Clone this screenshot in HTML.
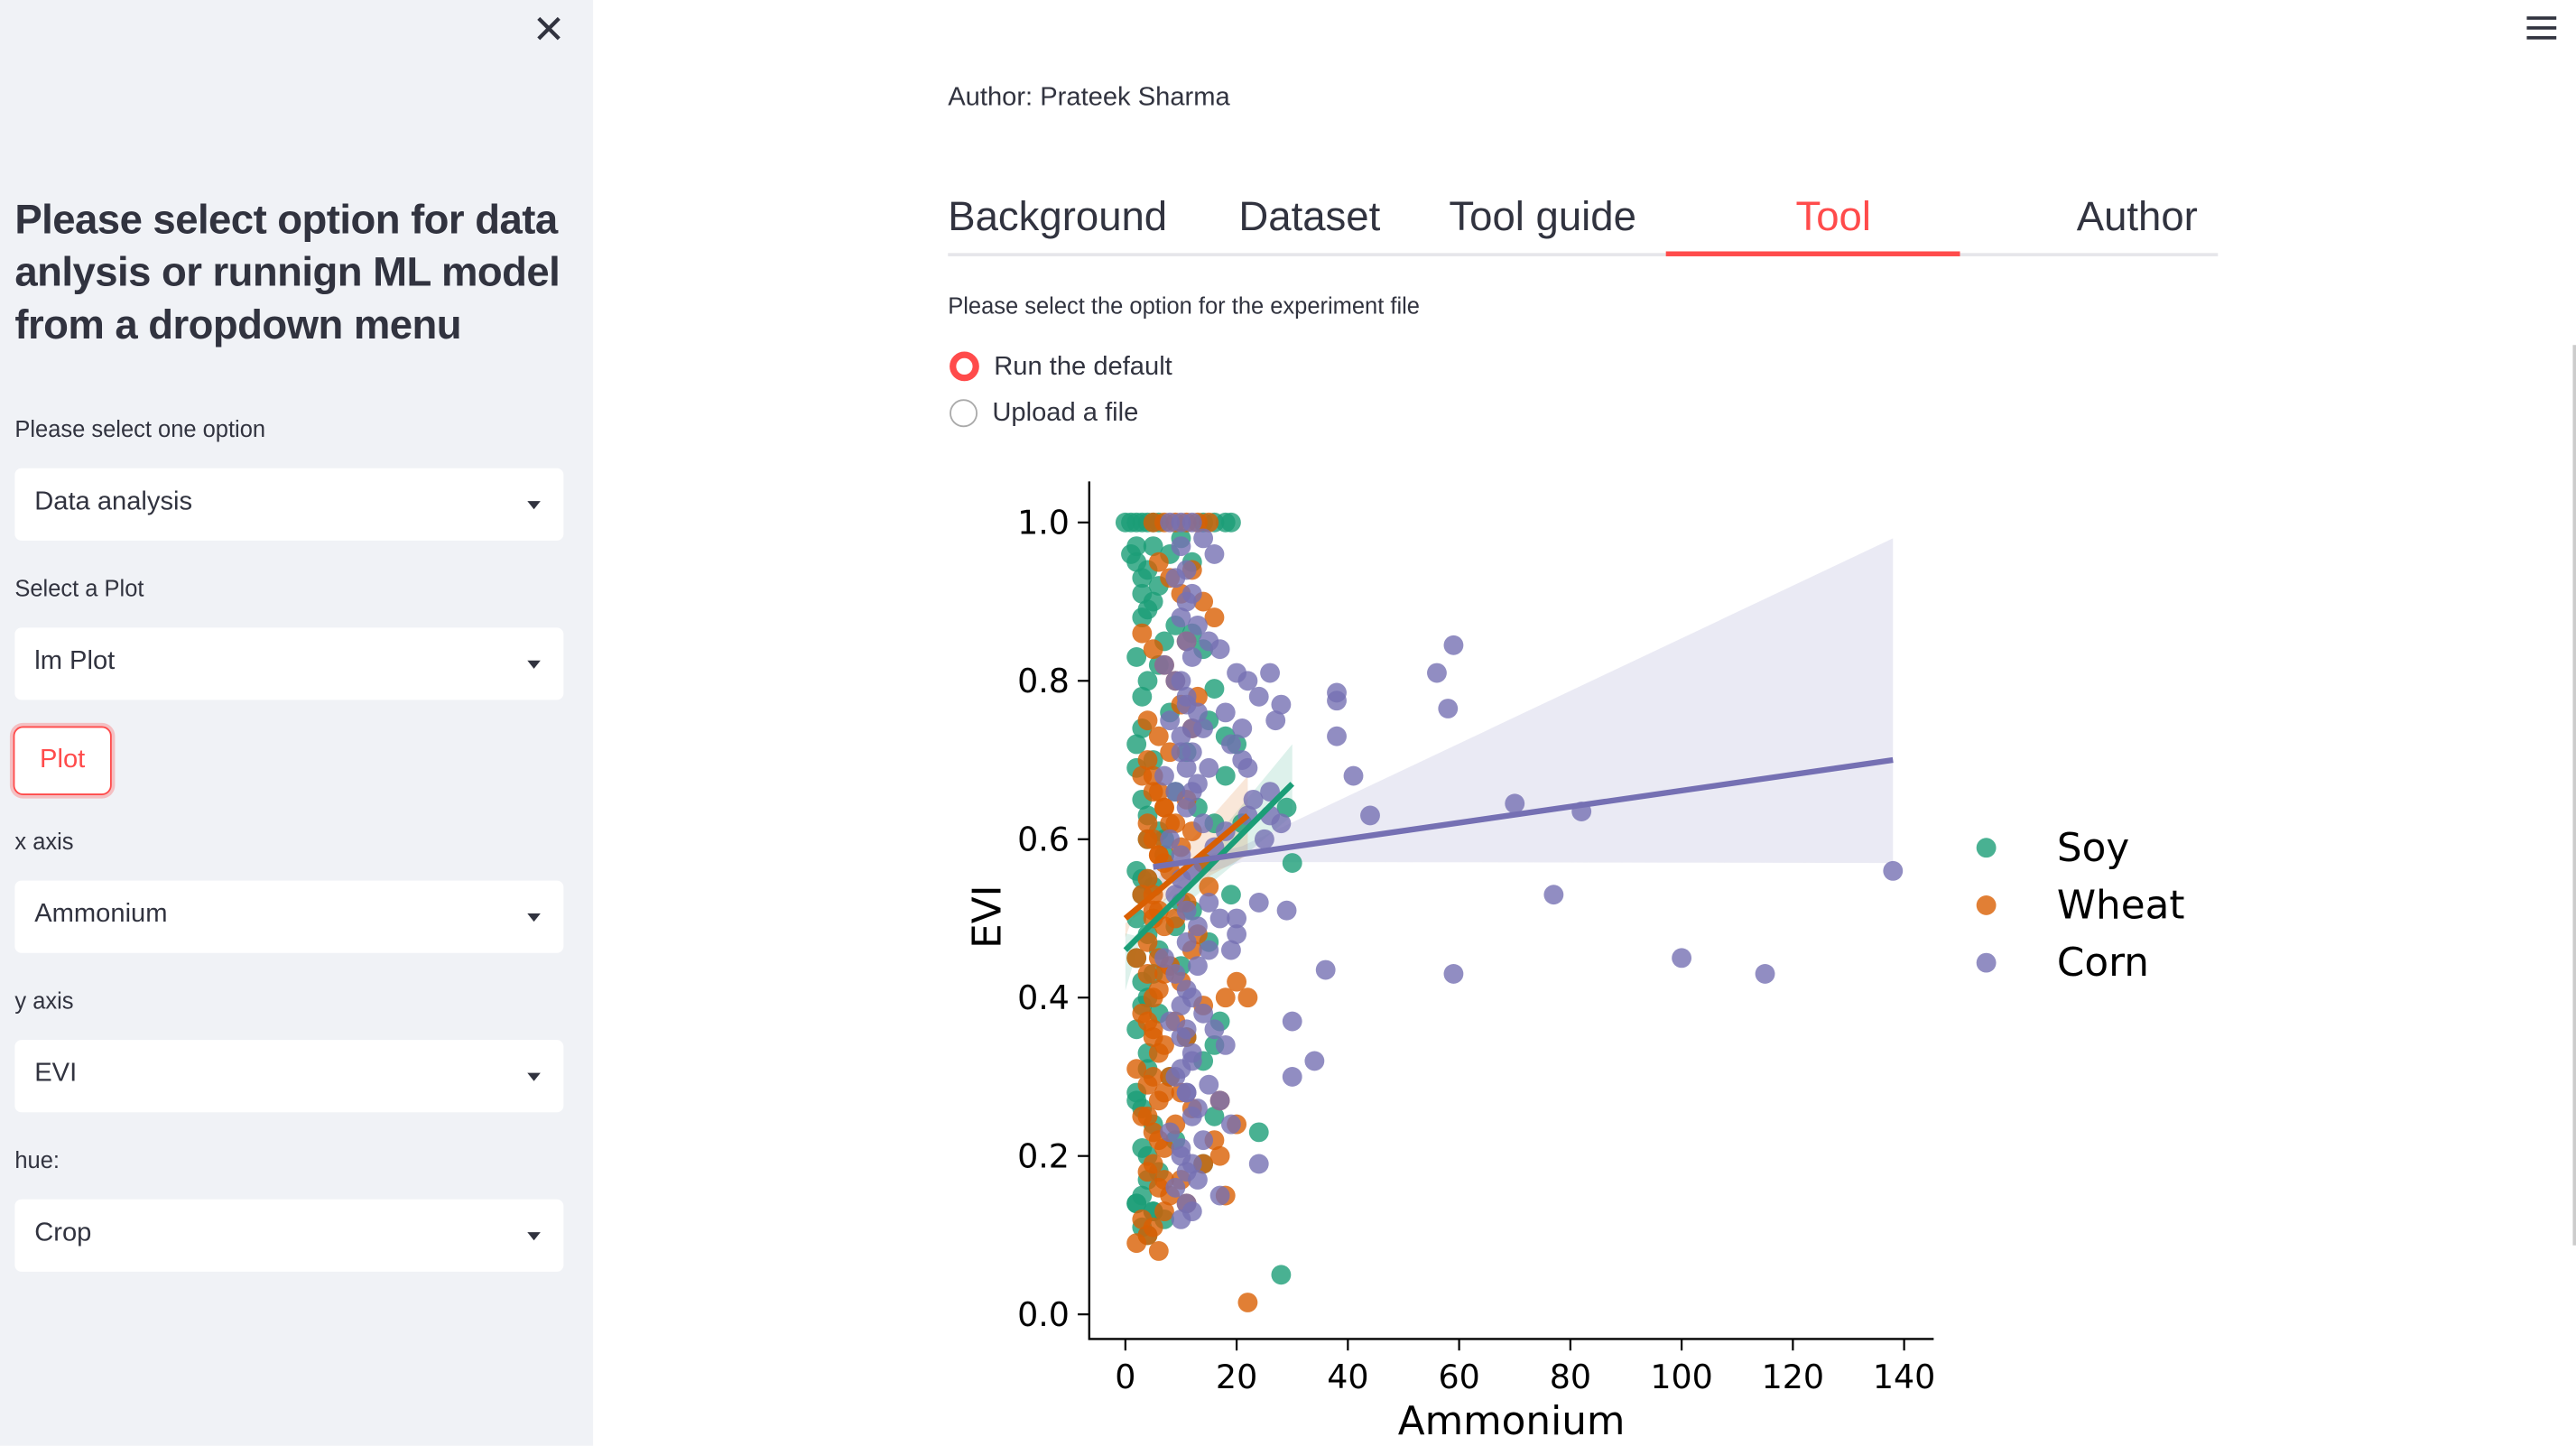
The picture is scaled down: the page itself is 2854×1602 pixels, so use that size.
<!DOCTYPE html>
<html><head><meta charset="utf-8"><style>
html,body{margin:0;padding:0;width:2854px;height:1602px;overflow:hidden;background:#fff;font-family:"Liberation Sans","DejaVu Sans",sans-serif;}
#root{position:absolute;left:0;top:0;width:1568px;height:880px;transform:scale(1.8202);transform-origin:0 0;}
#side{position:absolute;left:0;top:0;width:361px;height:880px;background:#f0f2f6;}
.lbl{position:absolute;left:9px;font-size:14px;color:#31333f;}
.sel{position:absolute;left:9px;width:334px;height:44px;background:#fff;border-radius:4px;font-size:16px;color:#31333f;}
.sel span{position:absolute;left:12px;top:12px;}
.sel i{position:absolute;right:14px;top:20px;width:0;height:0;border-left:4px solid transparent;border-right:4px solid transparent;border-top:5px solid #31333f;}
.tab{position:absolute;top:116px;font-size:25px;color:#31333f;}
</style></head><body>
<div id="root">
<div id="side">
 <div style="position:absolute;left:324px;top:4px;font-size:24px;color:#31333f;">✕</div>
 <div style="position:absolute;left:9px;top:118px;width:340px;font-size:25px;font-weight:bold;line-height:32px;color:#31333f;letter-spacing:-0.3px;">Please select option for data anlysis or runnign ML model from a dropdown menu</div>
 <div class="lbl" style="top:253px">Please select one option</div>
 <div class="sel" style="top:285px"><span>Data analysis</span><i></i></div>
 <div class="lbl" style="top:350px">Select a Plot</div>
 <div class="sel" style="top:382px"><span>lm Plot</span><i></i></div>
 <div style="position:absolute;left:8px;top:442px;width:58px;height:40px;border:1.5px solid #ff4b4b;border-radius:6px;background:#fff;color:#ff4b4b;font-size:16px;text-align:center;line-height:40px;box-shadow:0 0 0 2px rgba(255,75,75,0.3);">Plot</div>
 <div class="lbl" style="top:504px">x axis</div>
 <div class="sel" style="top:536px"><span>Ammonium</span><i></i></div>
 <div class="lbl" style="top:601px">y axis</div>
 <div class="sel" style="top:633px"><span>EVI</span><i></i></div>
 <div class="lbl" style="top:698px">hue:</div>
 <div class="sel" style="top:730px"><span>Crop</span><i></i></div>
</div>
<div style="position:absolute;left:1538px;top:10px;width:18px;">
 <div style="height:2px;background:#31333f;margin-bottom:4px"></div><div style="height:2px;background:#31333f;margin-bottom:4px"></div><div style="height:2px;background:#31333f"></div></div>
<div style="position:absolute;left:1566px;top:210px;width:2px;height:548px;background:#ccc"></div>
<div style="position:absolute;left:577px;top:51px;font-size:16px;color:#31333f;">Author: Prateek Sharma</div>
<div style="position:absolute;left:577px;top:154px;width:773px;height:2px;background:#e6e6ea"></div>
<div class="tab" style="left:577px;top:118px">Background</div>
<div class="tab" style="left:754px;top:118px">Dataset</div>
<div class="tab" style="left:882px;top:118px">Tool guide</div>
<div class="tab" style="left:1093px;top:118px;color:#ff4b4b">Tool</div>
<div style="position:absolute;left:1014px;top:153px;width:179px;height:3px;background:#ff4b4b"></div>
<div class="tab" style="left:1264px;top:118px">Author</div>
<div style="position:absolute;left:577px;top:178px;font-size:14px;color:#31333f;">Please select the option for the experiment file</div>
<div style="position:absolute;left:578px;top:214px;font-size:16px;color:#31333f;"><span style="display:inline-block;width:10px;height:10px;border:4px solid #ff4b4b;border-radius:50%;vertical-align:-4px;margin-right:9px;background:#fff"></span>Run the default</div>
<div style="position:absolute;left:578px;top:243px;font-size:16px;color:#31333f;"><span style="display:inline-block;width:15px;height:15px;border:1.5px solid #aaa;border-radius:50%;vertical-align:-4px;margin-right:9px;background:#fff"></span>Upload a file</div>
<svg id="chart" width="1568" height="880" style="position:absolute;left:0;top:0" font-family="DejaVu Sans, Liberation Sans, sans-serif"></svg>
</div>
<script>
const xTicks=[0,20,40,60,80,100,120,140];
const yTicks=[0.0,0.2,0.4,0.6,0.8,1.0];
const yTickLabels=["0.0","0.2","0.4","0.6","0.8","1.0"];
const series=["Soy","Wheat","Corn"];
const colors=["#1b9e77","#d95f02","#7570b3"];
const soyX=[0,1,2,3,4,5,6,14,16,18,19,1,2,3,4,5,6,8,10,12,3,5,7,9,2,4,6,12,16,14,2,3,5,8,11,15,18,20,3,4,6,9,13,16,2,3,5,7,10,14,2,4,6,9,12,15,19,3,4,6,2,4,8,11,14,16,17,2,3,5,4,6,9,14,16,3,5,7,2,4,28,30,24,29,18,21,7,10,2,3,4,3,2,4,3,2,5,3,4,2,3,4,5,3,2,4];
const soyY=[1,1,1,1,1,1,1,1,1,1,1,0.96,0.95,0.93,0.94,0.97,0.92,0.96,0.98,0.95,0.88,0.9,0.85,0.87,0.83,0.8,0.82,0.86,0.79,0.84,0.72,0.74,0.7,0.76,0.71,0.75,0.73,0.72,0.65,0.63,0.61,0.66,0.64,0.62,0.56,0.55,0.54,0.58,0.52,0.57,0.5,0.48,0.46,0.49,0.51,0.47,0.53,0.42,0.4,0.38,0.36,0.33,0.3,0.35,0.32,0.34,0.37,0.28,0.26,0.24,0.2,0.18,0.22,0.19,0.25,0.15,0.13,0.12,0.14,0.1,0.05,0.57,0.23,0.64,0.68,0.62,0.6,0.44,0.97,0.91,0.89,0.78,0.69,0.6,0.53,0.45,0.43,0.39,0.31,0.27,0.21,0.17,0.13,0.11,0.14,0.55];
const wheatX=[5,7,9,11,13,15,6,8,10,12,14,16,3,5,7,9,11,13,4,6,8,10,12,3,5,7,9,11,4,6,8,10,12,14,3,5,7,9,11,13,15,2,4,6,8,10,12,3,5,7,9,11,14,18,2,4,6,8,10,3,5,7,9,12,16,4,6,8,10,14,17,3,5,7,11,2,4,6,5,8,20,17,22,20,22,18,4,5,6,7,4,5,6,7,4,5,6,5,4,6,7,5,4,6,5,7,4,6,5,7];
const wheatY=[1,1,1,1,1,1,0.95,0.93,0.91,0.94,0.9,0.88,0.86,0.84,0.82,0.8,0.85,0.78,0.75,0.73,0.71,0.77,0.74,0.68,0.66,0.64,0.62,0.65,0.6,0.58,0.56,0.59,0.61,0.57,0.53,0.51,0.49,0.5,0.52,0.48,0.54,0.45,0.43,0.41,0.44,0.42,0.46,0.38,0.36,0.34,0.37,0.35,0.39,0.4,0.31,0.29,0.27,0.3,0.28,0.25,0.23,0.21,0.24,0.26,0.22,0.18,0.16,0.15,0.17,0.19,0.2,0.12,0.11,0.13,0.14,0.09,0.1,0.08,0.35,0.62,0.42,0.27,0.4,0.24,0.015,0.15,0.7,0.68,0.66,0.64,0.62,0.6,0.58,0.57,0.55,0.53,0.51,0.5,0.47,0.45,0.43,0.4,0.37,0.33,0.3,0.28,0.25,0.22,0.19,0.17];
const cornX=[8,10,12,14,16,9,11,13,15,7,9,11,13,17,20,8,10,12,14,18,22,24,26,28,7,9,11,13,15,19,21,23,8,10,12,14,16,18,22,26,9,11,13,15,17,7,9,11,13,15,20,24,8,10,12,14,16,18,9,11,13,15,17,8,10,12,14,19,9,11,13,17,10,12,56,59,58,38,38,38,41,44,70,82,77,100,115,138,59,36,29,30,34,30,24,28,26,22,21,20,25,27,19,10,11,12,10,11,12,10,11,12,10,11,12,10,11,12,10,11,12,10,11,12,10,11];
const cornY=[1,1,1,0.98,0.96,0.93,0.9,0.87,0.85,0.82,0.8,0.78,0.76,0.84,0.81,0.75,0.73,0.71,0.74,0.76,0.8,0.78,0.81,0.77,0.68,0.66,0.64,0.67,0.69,0.72,0.7,0.65,0.6,0.58,0.56,0.62,0.59,0.61,0.63,0.63,0.53,0.51,0.49,0.52,0.5,0.45,0.43,0.41,0.44,0.46,0.48,0.52,0.37,0.35,0.33,0.38,0.36,0.34,0.3,0.28,0.26,0.29,0.27,0.23,0.21,0.19,0.22,0.24,0.16,0.14,0.17,0.15,0.12,0.13,0.81,0.845,0.765,0.785,0.775,0.73,0.68,0.63,0.645,0.635,0.53,0.45,0.43,0.56,0.43,0.435,0.51,0.37,0.32,0.3,0.19,0.62,0.66,0.69,0.74,0.5,0.6,0.75,0.46,0.97,0.94,0.91,0.88,0.85,0.83,0.8,0.77,0.74,0.71,0.69,0.66,0.55,0.47,0.4,0.39,0.36,0.32,0.31,0.28,0.25,0.2,0.18,0.17,0.15,0.14];
const fitX0=[0,0,5];const fitX1=[30,22,138];
const fitY0=[0.46,0.50,0.565];const fitY1=[0.67,0.63,0.70];
const ciLo1=[0.63,0.58,0.57];const ciHi1=[0.72,0.68,0.98];
const NS="http://www.w3.org/2000/svg";
const svg=document.getElementById('chart');
const X=v=>685+v*(474/140);
const Y=v=>800-v*482;
function el(t,a){const e=document.createElementNS(NS,t);for(const k in a)e.setAttribute(k,a[k]);svg.appendChild(e);return e;}
for(let i=0;i<3;i++){
 const b=el('polygon',{points:`${X(fitX0[i])},${Y(fitY0[i]+(fitY0[i]-ciLo1[i])*0.3)} ${X(fitX0[i]+ (fitX1[i]-fitX0[i])*0.12)},${Y(fitY0[i]+(fitY1[i]-fitY0[i])*0.12+0.01)} ${X(fitX1[i])},${Y(ciHi1[i])} ${X(fitX1[i])},${Y(ciLo1[i])} ${X(fitX0[i]+(fitX1[i]-fitX0[i])*0.12)},${Y(fitY0[i]+(fitY1[i]-fitY0[i])*0.12-0.01)} ${X(fitX0[i])},${Y(fitY0[i]-(fitY0[i]-ciLo1[i])*0.3-0.03)}`,fill:colors[i],'fill-opacity':0.15});
 
 
}
const all=[[soyX,soyY],[wheatX,wheatY],[cornX,cornY]];
for(let s=0;s<3;s++){
 const [xs,ys]=all[s];
 for(let j=0;j<xs.length;j++){
  const c=el('circle',{cx:X(xs[j]),cy:Y(ys[j]),r:6,fill:colors[s],'fill-opacity':0.8});
  
  
 }
}
for(let i=0;i<3;i++){
 const l=el('line',{x1:X(fitX0[i]),y1:Y(fitY0[i]),x2:X(fitX1[i]),y2:Y(fitY1[i]),stroke:colors[i],'stroke-width':3.5});
 
 
}
const ax=el('path',{d:'M663,293 V815 H1177',stroke:'#000','stroke-width':1.3,fill:'none'});


xTicks.forEach(t=>{
 el('line',{x1:X(t),x2:X(t),y1:815,y2:822,stroke:'#000','stroke-width':1.2});
 const tx=el('text',{x:X(t),y:845,'font-size':20,'text-anchor':'middle',fill:'#000'});tx.textContent=t;
 
 
});
yTicks.forEach((t,k)=>{
 el('line',{x1:656,x2:663,y1:Y(t),y2:Y(t),stroke:'#000','stroke-width':1.2});
 const tx=el('text',{x:651,y:Y(t)+7,'font-size':20,'text-anchor':'end',fill:'#000'});tx.textContent=yTickLabels[k];
 
 
});
const xt=el('text',{x:920,y:873,'font-size':24,'text-anchor':'middle'});xt.textContent='Ammonium';


const yt=el('text',{x:609,y:558,'font-size':24,'text-anchor':'middle',transform:'rotate(-90 609 558)'});yt.textContent='EVI';


series.forEach((n,i)=>{
 const c=el('circle',{cx:1209,cy:516+i*35,r:6,fill:colors[i],'fill-opacity':0.8});
 
 
 const t=el('text',{x:1252,y:524+i*35,'font-size':24});t.textContent=n;
 
 
});
</script>
</body></html>
